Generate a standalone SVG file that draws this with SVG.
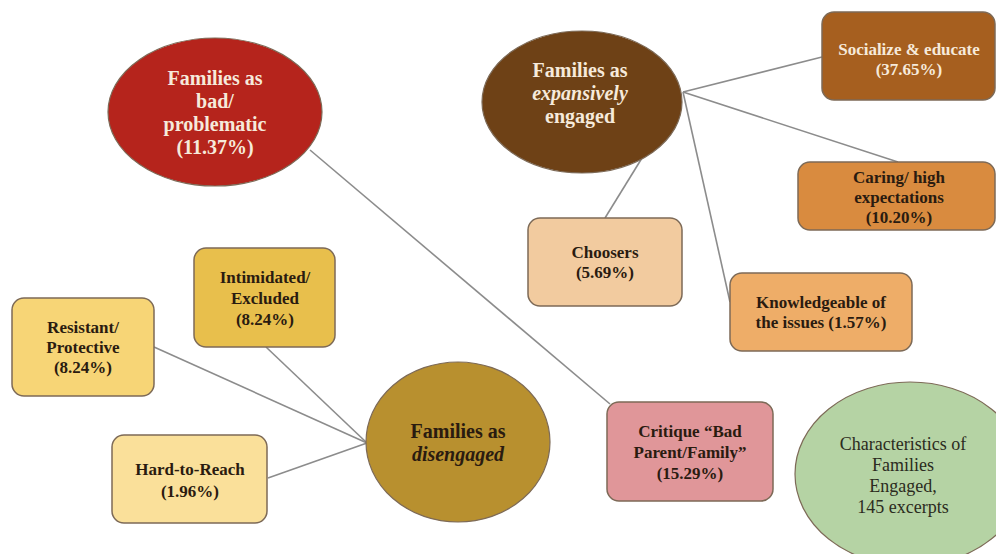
<svg xmlns="http://www.w3.org/2000/svg" width="996" height="554" viewBox="0 0 996 554">
<style>
text{font-family:"Liberation Serif","Times New Roman",serif;text-anchor:middle;font-weight:bold}
.big{font-size:20px}
.sm{font-size:17px}
.light{fill:#f6eadb}
.dark{fill:#2a1b10}
.box{stroke:#7d6a57;stroke-width:1.5}
.ell{stroke:#7d6a57;stroke-width:1.2}
.conn line{stroke:#8c8c8c;stroke-width:1.6}
.reg{font-weight:normal;font-size:18px;fill:#2b2b20}
</style>
<rect width="996" height="554" fill="#ffffff"/>
<g id="connectors" class="conn">
<line x1="310" y1="150" x2="610" y2="404"/>
<line x1="683" y1="92" x2="822" y2="57"/>
<line x1="683" y1="92" x2="898" y2="162"/>
<line x1="683" y1="92" x2="730" y2="302"/>
<line x1="642" y1="158" x2="605" y2="218"/>
<line x1="367" y1="443" x2="154" y2="347"/>
<line x1="367" y1="443" x2="266" y2="347"/>
<line x1="367" y1="443" x2="268" y2="478"/>
</g>
<g id="n-bad">
<ellipse class="ell" cx="215" cy="112" rx="107" ry="74" fill="#b5241c"/>
<text class="big light" x="215" y="85">Families as</text>
<text class="big light" x="215" y="108">bad/</text>
<text class="big light" x="215" y="131">problematic</text>
<text class="big light" x="215" y="154">(11.37%)</text>
</g>
<g id="n-expansive">
<ellipse class="ell" cx="582" cy="102" rx="100" ry="71" fill="#6e4116"/>
<text class="big light" x="580" y="77">Families as</text>
<text class="big light" x="580" y="100" font-style="italic">expansively</text>
<text class="big light" x="580" y="123">engaged</text>
</g>
<g id="n-disengaged">
<ellipse class="ell" cx="458" cy="442" rx="92" ry="80" fill="#b8902f"/>
<text class="big dark" x="458" y="438">Families as</text>
<text class="big dark" x="458" y="461" font-style="italic">disengaged</text>
</g>
<g id="n-characteristics">
<ellipse class="ell" cx="910" cy="474" rx="115" ry="92" fill="#b5d3a4"/>
<text class="reg" x="903" y="450">Characteristics of</text>
<text class="reg" x="903" y="471">Families</text>
<text class="reg" x="903" y="492">Engaged,</text>
<text class="reg" x="903" y="513">145 excerpts</text>
</g>
<g id="n-socialize">
<rect class="box" x="822" y="12" width="173" height="88" rx="12" fill="#a65f1f"/>
<text class="sm light" x="909" y="55">Socialize &amp; educate</text>
<text class="sm light" x="909" y="75">(37.65%)</text>
</g>
<g id="n-caring">
<rect class="box" x="798" y="162" width="197" height="68" rx="12" fill="#d98b3f"/>
<text class="sm dark" x="899" y="183">Caring/ high</text>
<text class="sm dark" x="899" y="203">expectations</text>
<text class="sm dark" x="899" y="223">(10.20%)</text>
</g>
<g id="n-choosers">
<rect class="box" x="528" y="218" width="154" height="88" rx="12" fill="#f2cb9f"/>
<text class="sm dark" x="605" y="258">Choosers</text>
<text class="sm dark" x="605" y="278">(5.69%)</text>
</g>
<g id="n-knowledgeable">
<rect class="box" x="730" y="273" width="182" height="78" rx="12" fill="#eead68"/>
<text class="sm dark" x="821" y="308">Knowledgeable of</text>
<text class="sm dark" x="821" y="328">the issues (1.57%)</text>
</g>
<g id="n-critique">
<rect class="box" x="607" y="402" width="166" height="99" rx="12" fill="#e09699"/>
<text class="sm dark" x="690" y="437">Critique “Bad</text>
<text class="sm dark" x="690" y="458">Parent/Family”</text>
<text class="sm dark" x="690" y="479">(15.29%)</text>
</g>
<g id="n-intimidated">
<rect class="box" x="194" y="248" width="141" height="99" rx="12" fill="#e8bf4c"/>
<text class="sm dark" x="265" y="283">Intimidated/</text>
<text class="sm dark" x="265" y="304">Excluded</text>
<text class="sm dark" x="265" y="325">(8.24%)</text>
</g>
<g id="n-resistant">
<rect class="box" x="12" y="298" width="142" height="98" rx="12" fill="#f7d576"/>
<text class="sm dark" x="83" y="333">Resistant/</text>
<text class="sm dark" x="83" y="353">Protective</text>
<text class="sm dark" x="83" y="373">(8.24%)</text>
</g>
<g id="n-hard">
<rect class="box" x="112" y="435" width="155" height="88" rx="12" fill="#fae09a"/>
<text class="sm dark" x="190" y="475">Hard-to-Reach</text>
<text class="sm dark" x="190" y="497">(1.96%)</text>
</g>
</svg>
